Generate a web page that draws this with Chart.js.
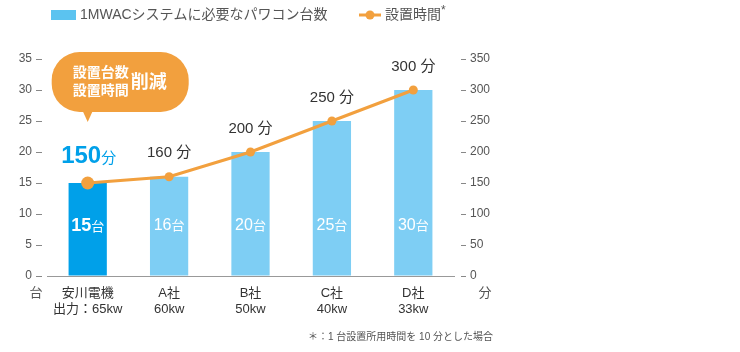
<!DOCTYPE html>
<html>
<head>
<meta charset="utf-8">
<script src="https://cdn.jsdelivr.net/npm/chart.js@4"></script>
<style>
  body { margin: 0; background: #fff; }
  #wrap { position: relative; width: 740px; height: 352px; }
</style>
</head>
<body>
<div id="wrap"><canvas id="powerChart"></canvas></div>
<script>
'use strict';

const categories = [['安川電機', '出力：65kw'], ['A社', '60kw'], ['B社', '50kw'], ['C社', '40kw'], ['D社', '33kw']];
const unitCounts = [15, 16, 20, 25, 30];
const setupMinutes = [150, 160, 200, 250, 300];
const leftMax = 35, leftStep = 5;
const rightMax = 350, rightStep = 50;

const FONT = '"Liberation Sans", "Noto Sans CJK JP", sans-serif';
const orange = '#f2a03e';
const blue = '#00a0e9';
const lightBlue = '#7ecef4';

// draw a row of text pieces centred on x, sharing a baseline
function drawParts(ctx, x, base, parts) {
    let w = 0;
    parts.forEach(p => { ctx.font = p.font; w += ctx.measureText(p.t).width; });
    let cx = x - w / 2;
    ctx.textAlign = 'left';
    ctx.textBaseline = 'alphabetic';
    parts.forEach(p => {
        ctx.font = p.font;
        ctx.fillStyle = p.color;
        ctx.fillText(p.t, cx, base);
        cx += ctx.measureText(p.t).width;
    });
}

const annotations = {
    id: 'annotations',
    afterDatasetsDraw(chart) {
        const ctx = chart.ctx;
        const pts = chart.getDatasetMeta(0).data;
        const bars = chart.getDatasetMeta(1).data;
        const yL = chart.scales.y;
        const area = chart.chartArea;
        ctx.save();

        // labels above the line points
        pts.forEach((p, i) => {
            if (i === 0) {
                drawParts(ctx, p.x + 1, p.y - 20.5, [
                    { t: String(setupMinutes[i]), font: `bold 24px ${FONT}`, color: blue },
                    { t: '分', font: `15px ${FONT}`, color: blue },
                ]);
            } else {
                drawParts(ctx, p.x, p.y - 19.5, [
                    { t: setupMinutes[i] + ' ', font: `15px ${FONT}`, color: '#333' },
                    { t: '分', font: `15px ${FONT}`, color: '#333' },
                ]);
            }
        });

        // counts inside the bars
        const inY = yL.getPixelForValue(8.3);
        bars.forEach((b, i) => {
            const bold = i === 0;
            drawParts(ctx, b.x, inY + (bold ? 6.5 : 5.8), [
                { t: String(unitCounts[i]), font: `${bold ? 'bold 18px' : '16px'} ${FONT}`, color: '#fff' },
                { t: '台', font: `13px ${FONT}`, color: '#fff' },
            ]);
        });

        // callout bubble over the first bar
        const p0 = pts[0];
        const bx = p0.x - 36, by = p0.y - 131, bw = 137, bh = 60;
        ctx.fillStyle = orange;
        ctx.beginPath();
        ctx.roundRect(bx, by, bw, bh, 28);
        ctx.fill();
        ctx.beginPath();
        ctx.moveTo(p0.x - 5, by + bh - 1);
        ctx.lineTo(p0.x + 5, by + bh - 1);
        ctx.lineTo(p0.x, by + bh + 10);
        ctx.closePath();
        ctx.fill();
        ctx.fillStyle = '#fff';
        ctx.textBaseline = 'middle';
        ctx.textAlign = 'center';
        ctx.font = `bold 14px ${FONT}`;
        ctx.fillText('設置台数', p0.x + 13, by + 21);
        ctx.fillText('設置時間', p0.x + 13, by + 39);
        ctx.textAlign = 'left';
        ctx.font = `bold 18px ${FONT}`;
        ctx.fillText('削減', p0.x + 43, by + 31);

        // axis units
        ctx.fillStyle = '#555';
        ctx.font = `13px ${FONT}`;
        ctx.textAlign = 'center';
        ctx.fillText('台', 36, area.bottom + 17.5);
        ctx.fillText('分', 485, area.bottom + 17.5);

        // footnote
        ctx.font = `10px ${FONT}`;
        ctx.textAlign = 'right';
        ctx.fillText('＊：1 台設置所用時間を 10 分とした場合', 493, 337);

        // legend
        ctx.fillStyle = '#5bc3f0';
        ctx.fillRect(51, 10, 25, 10);
        ctx.fillStyle = '#555';
        ctx.font = `14px ${FONT}`;
        ctx.textAlign = 'left';
        ctx.fillText('1MWACシステムに必要なパワコン台数', 80, 15);
        ctx.strokeStyle = orange;
        ctx.lineWidth = 3;
        ctx.beginPath();
        ctx.moveTo(359, 15);
        ctx.lineTo(381, 15);
        ctx.stroke();
        ctx.fillStyle = orange;
        ctx.beginPath();
        ctx.arc(370, 15, 4.5, 0, Math.PI * 2);
        ctx.fill();
        ctx.fillStyle = '#555';
        ctx.fillText('設置時間', 385, 15);
        ctx.font = `12px ${FONT}`;
        ctx.fillText('*', 441, 11);
        ctx.restore();
    },
};

new Chart(document.getElementById('powerChart'), {
    type: 'bar',
    data: {
        labels: categories,
        datasets: [
            { type: 'line', label: '設置時間', data: setupMinutes, yAxisID: 'y1', order: 0,
              borderColor: orange, borderWidth: 3, tension: 0, pointRadius: [6.5, 4.5, 4.5, 4.5, 4.5],
              pointBackgroundColor: orange, pointBorderWidth: 0 },
            { type: 'bar', label: '1MWACシステムに必要なパワコン台数', data: unitCounts, yAxisID: 'y', order: 1,
              backgroundColor: unitCounts.map((v, i) => i === 0 ? blue : lightBlue),
              categoryPercentage: 1, barPercentage: 0.47 },
        ],
    },
    options: {
        responsive: true, maintainAspectRatio: false, animation: false, events: [],
        layout: { padding: { top: 59, right: 226, left: 0, bottom: 0 } },
        plugins: { legend: { display: false }, tooltip: { enabled: false } },
        scales: {
            x: {
                grid: { drawOnChartArea: false, drawTicks: false },
                border: { display: true, color: '#999', width: 1 },
                ticks: { color: '#333', padding: 9, font: { family: FONT, size: 13, lineHeight: 1.25 } },
                afterFit: s => { s.height = 76; },
            },
            y: {
                position: 'left', min: 0, max: leftMax,
                ticks: { stepSize: leftStep, color: '#555', padding: 0, font: { family: FONT, size: 12 } },
                grid: { drawOnChartArea: false, tickLength: 15, tickColor: '#888', tickBorderDash: [0, 4, 6, 20] },
                border: { display: false },
                afterFit: s => { s.width = 47; },
            },
            y1: {
                position: 'right', min: 0, max: rightMax,
                ticks: { stepSize: rightStep, color: '#555', padding: 2, font: { family: FONT, size: 12 } },
                grid: { drawOnChartArea: false, tickLength: 14, tickColor: '#888', tickBorderDash: [0, 7, 5, 20] },
                border: { display: false },
                afterFit: s => { s.width = 60; },
            },
        },
    },
    plugins: [annotations],
});
</script>
</body>
</html>
